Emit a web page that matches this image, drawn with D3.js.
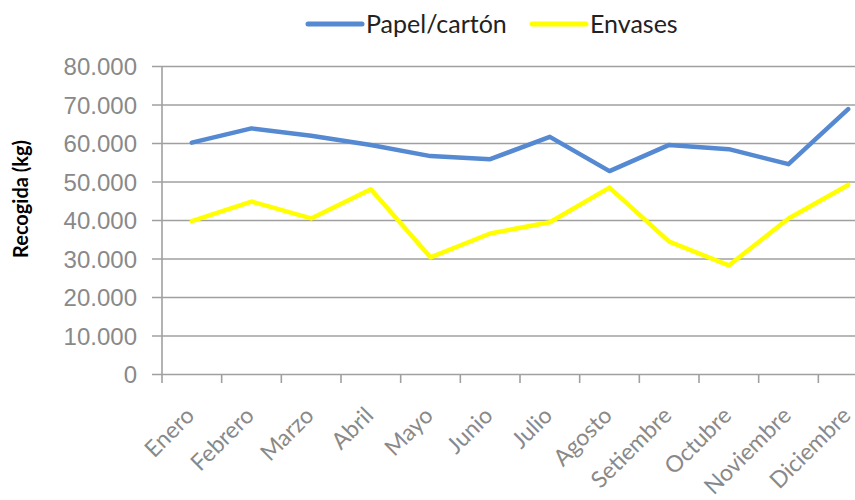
<!DOCTYPE html>
<html>
<head>
<meta charset="utf-8">
<script src="https://cdn.jsdelivr.net/npm/d3@7"></script>
<style>
  html, body { margin: 0; padding: 0; background: #fff; }
  svg { display: block; font-family: Lato, "Open Sans", sans-serif; }
</style>
</head>
<body>
<svg id="chart" width="855" height="500"></svg>
<script>
// Monthly collection (kg)
const months = ["Enero", "Febrero", "Marzo", "Abril", "Mayo", "Junio", "Julio", "Agosto", "Setiembre", "Octubre", "Noviembre", "Diciembre"];
const papelCarton = [60100, 63800, 61900, 59500, 56600, 55800, 61600, 52700, 59500, 58400, 54500, 68800];
const envases = [39700, 44800, 40400, 48000, 30300, 36500, 39400, 48400, 34400, 28200, 40400, 49100];
const yTicks = [0, 10000, 20000, 30000, 40000, 50000, 60000, 70000, 80000];

const seriesList = [
  { name: "Papel/cartón", values: papelCarton, color: "#5589D2" },
  { name: "Envases", values: envases, color: "#FFFF00" }
];

const svg = d3.select("#chart");
const plot = { left: 162, right: 878, top: 66, bottom: 374 };

const x = d3.scaleBand().domain(months).range([plot.left, plot.right]).padding(0);
const y = d3.scaleLinear().domain([0, 80000]).range([plot.bottom, plot.top]);

const fmt = v => d3.format(",")(v).replace(/,/g, ".");
const gridColor = "#A0A0A0";
const labelColor = "#898989";

// Horizontal gridlines with left tick marks
const yAxis = svg.append("g")
  .attr("transform", `translate(${plot.left},0)`)
  .call(d3.axisLeft(y).tickValues(yTicks).tickFormat(fmt)
    .tickSize(-(plot.right - plot.left)).tickPadding(15));
yAxis.select(".domain").remove();
yAxis.selectAll(".tick line").attr("stroke", gridColor).attr("stroke-width", 1.6)
  .attr("x1", -10);
yAxis.selectAll(".tick text")
  .attr("fill", labelColor).attr("font-size", 24).attr("x", -25).attr("dy", "0.36em");

// Vertical axis line
svg.append("line")
  .attr("x1", plot.left).attr("x2", plot.left)
  .attr("y1", plot.top).attr("y2", plot.bottom)
  .attr("stroke", gridColor).attr("stroke-width", 1.6);

// Category axis: ticks on band boundaries
const boundaries = months.map(m => x(m)).concat([plot.right]);
svg.append("g").selectAll("line").data(boundaries).join("line")
  .attr("x1", d => d).attr("x2", d => d)
  .attr("y1", plot.bottom).attr("y2", plot.bottom + 9)
  .attr("stroke", gridColor).attr("stroke-width", 1.6);

// Rotated month labels
svg.append("g").selectAll("text").data(months).join("text")
  .attr("transform", d => `translate(${x(d) + x.bandwidth() / 2 + 4},${plot.bottom + 43}) rotate(-45)`)
  .attr("text-anchor", "end")
  .attr("fill", labelColor)
  .attr("font-size", 23)
  .text(d => d);

// Y axis title
svg.append("text")
  .attr("transform", `translate(28,199) rotate(-90)`)
  .attr("text-anchor", "middle")
  .attr("font-size", 20)
  .attr("font-weight", "bold")
  .attr("fill", "#000")
  .text("Recogida (kg)");

// Series lines
const line = d3.line()
  .x((d, i) => x(months[i]) + x.bandwidth() / 2)
  .y(d => y(d));

svg.append("g").selectAll("path").data(seriesList).join("path")
  .attr("d", s => line(s.values))
  .attr("fill", "none")
  .attr("stroke", s => s.color)
  .attr("stroke-width", 4.5)
  .attr("stroke-linejoin", "round")
  .attr("stroke-linecap", "round");

// Legend
const legendPos = [308, 532];
const legend = svg.append("g").selectAll("g").data(seriesList).join("g")
  .attr("transform", (d, i) => `translate(${legendPos[i]},24)`);
legend.append("line")
  .attr("x1", 0).attr("x2", 54)
  .attr("stroke", d => d.color).attr("stroke-width", 5).attr("stroke-linecap", "round");
legend.append("text")
  .attr("x", 58).attr("dy", "0.36em")
  .attr("font-size", 25).attr("fill", "#222")
  .text(d => d.name);
</script>
</body>
</html>
